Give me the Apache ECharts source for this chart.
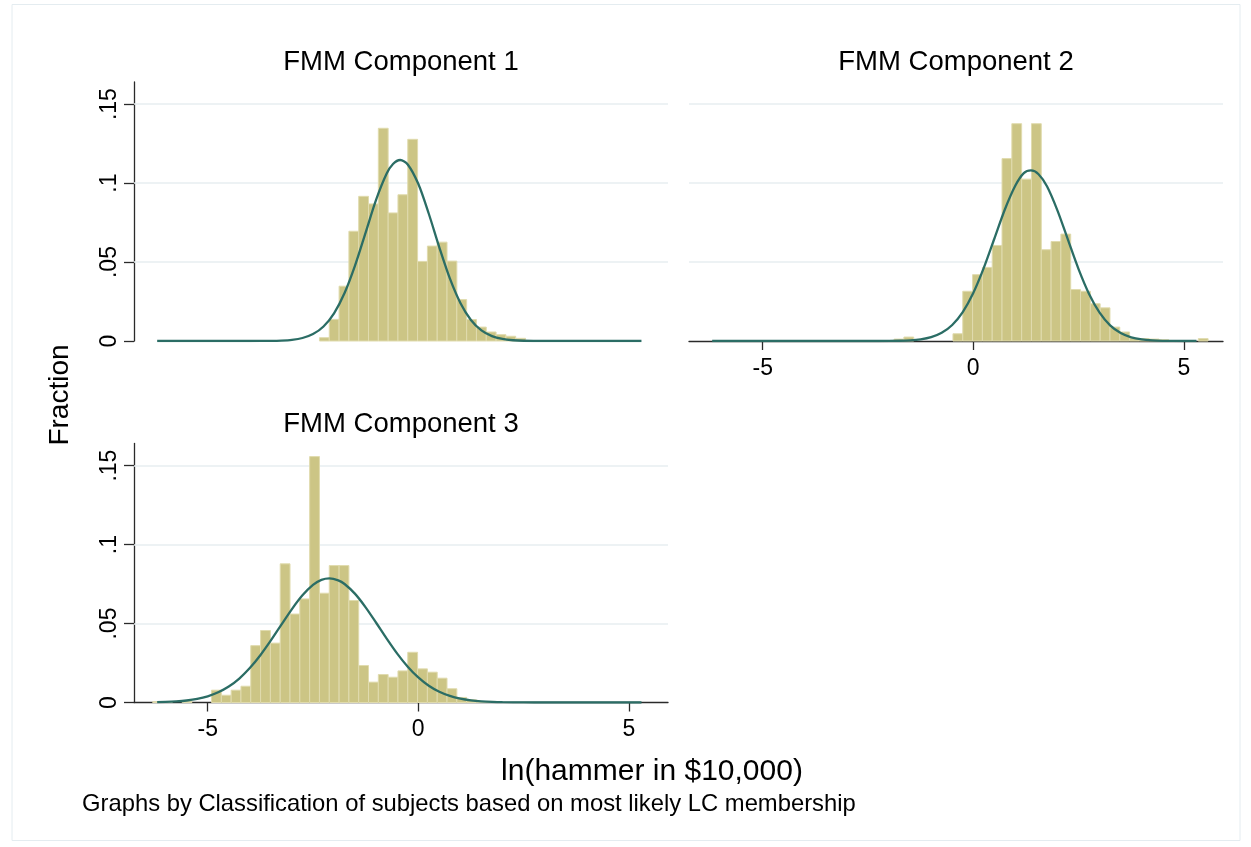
<!DOCTYPE html>
<html>
<head>
<meta charset="utf-8">
<script src="https://cdn.jsdelivr.net/npm/echarts@6/dist/echarts.min.js"></script>
<style>
html,body{margin:0;padding:0;background:#ffffff;}
#chart{width:1251px;height:847px;}
</style>
</head>
<body>
<div id="chart"></div>
<script>
// ---------------- data ----------------
const panelTitles = ['FMM Component 1', 'FMM Component 2', 'FMM Component 3'];
const yAxisTitle = 'Fraction';
const xAxisTitle = 'ln(hammer in $10,000)';
const noteText = 'Graphs by Classification of subjects based on most likely LC membership';

const xTickValues = [-5, 0, 5];
const yTickValues = [0, 0.05, 0.1, 0.15];

// common histogram bins (left edge of first bin, bin width)
const binStart = -6.307;
const binWidth = 0.233;

// fraction in each bin (51 bins) per component
const fractions1 = [0,0,0,0,0,0,0,0,0,0,0,0,0,0,0,0,0,
  0.0021,0.0137,0.0347,0.0695,0.0916,0.0868,0.1347,0.0811,0.0926,0.1277,
  0.0504,0.0601,0.0626,0.0506,0.0262,0.0136,0.0088,0.0057,0.004,0.003,0.0017,
  0,0,0,0,0,0,0,0,0,0,0,0,0];
const fractions2 = [0,0,0,0,0,0,0,0,0,0,0,0,0,0,0,0,0,0,0,
  0.0012,0.0025,0,0,0,0,0.0046,0.0315,0.042,0.0466,0.0605,0.1155,0.1376,0.1025,
  0.1376,0.0578,0.063,0.0677,0.0326,0.0315,0.0236,0.021,0.0088,0.0057,0.0015,
  0.0015,0.0012,0.0008,0,0,0,0.0015];
const fractions3 = [0.0005,0.0005,0,0.0008,0,0,0.0078,0.0046,0.0078,0.0103,
  0.036,0.0456,0.0376,0.0878,0.056,0.0656,0.1557,0.0692,0.0867,0.0867,0.0646,
  0.0234,0.0129,0.0177,0.016,0.02,0.0318,0.0213,0.0192,0.0154,0.0087,0.0032,
  0.0017,0.0005,0.0007,
  0,0,0,0,0,0,0,0,0,0,0,0,0,0,0,0];

// fitted normal curves
const curve1X = [-6.2,-4.5,-4,-3.5,-3.25,-3,-2.75,-2.5,-2.25,-2,-1.75,-1.5,-1.25,-1,-0.75,-0.6,-0.43,-0.25,0,0.25,0.5,0.75,1,1.25,1.5,1.75,2,2.25,2.5,3,3.5,4.5,5.3];
const curve1Y = [0,0,0.00001,0.00009,0.00027,0.00075,0.0019,0.00437,0.00918,0.01752,0.03038,0.04789,0.06865,0.08947,0.1060,0.1121,0.1146,0.1118,0.09954,0.08057,0.05928,0.03966,0.02412,0.01334,0.0067,0.00306,0.00127,0.00048,0.00017,0.00001,0,0,0];
const curve2X = [-6.2,-4,-3,-2.5,-2,-1.75,-1.5,-1.25,-1,-0.75,-0.5,-0.25,0,0.25,0.5,0.75,1,1.2,1.37,1.55,1.75,2,2.25,2.5,2.75,3,3.25,3.5,3.75,4,4.25,4.5,5,5.3];
const curve2Y = [0,0,0,0,0.00005,0.00015,0.00041,0.00104,0.00242,0.00518,0.01015,0.01832,0.03036,0.04625,0.06474,0.08328,0.09845,0.1063,0.1080,0.1056,0.09796,0.08259,0.06399,0.04555,0.02981,0.01792,0.0099,0.00503,0.00235,0.00101,0.0004,0.00014,0.00001,0];
const curve3X = [-6.2,-6,-5.75,-5.5,-5.25,-5,-4.75,-4.5,-4.25,-4,-3.75,-3.5,-3.25,-3,-2.75,-2.5,-2.3,-2.11,-1.9,-1.75,-1.5,-1.25,-1,-0.75,-0.5,-0.25,0,0.25,0.5,0.75,1,1.25,1.5,1.75,2,2.5,3,4,5.3];
const curve3Y = [0.00019,0.00034,0.00068,0.00127,0.00228,0.00392,0.00644,0.01011,0.01518,0.0218,0.02992,0.03928,0.04929,0.05915,0.06785,0.07442,0.07765,0.0786,0.07736,0.07503,0.06877,0.06027,0.0505,0.04046,0.03098,0.02269,0.01589,0.01064,0.00681,0.00417,0.00244,0.00136,0.00073,0.00037,0.00018,0.00004,0,0,0];

// ---------------- build ----------------
const FONT_FAMILY = '"Liberation Sans", Arial, Helvetica, sans-serif';
const BAR_FILL = '#ccc585';
const BAR_EDGE = '#e0dbae';
const CURVE_COLOR = '#2b6d65';
const GRID_COLOR = '#e7eef1';
const AXIS_COLOR = '#2a2a2a';

const X_MIN = -6.75, X_MAX = 5.93, Y_MAX = 0.164;

function binsToData(fr) {
  const out = [];
  fr.forEach((v, i) => {
    if (v > 0) {
      const x0 = binStart + i * binWidth;
      out.push([x0, x0 + binWidth, v]);
    }
  });
  return out;
}
function zip(xs, ys) { return xs.map((x, i) => [x, ys[i]]); }

function renderBar(params, api) {
  const p0 = api.coord([api.value(0), api.value(2)]);
  const p1 = api.coord([api.value(1), 0]);
  return {
    type: 'rect',
    shape: { x: p0[0], y: p0[1], width: p1[0] - p0[0], height: p1[1] - p0[1] },
    style: { fill: BAR_FILL, stroke: BAR_EDGE, lineWidth: 1 }
  };
}

function yLabelFmt(v) {
  if (Math.abs(v) < 1e-9) return '0';
  const r = Math.round(v * 100) / 100;
  if (!yTickValues.some(t => Math.abs(t - r) < 1e-9)) return '';
  return String(r).replace(/^0/, '');
}

const grids = [
  { left: 134, top: 82, width: 534, height: 259 },
  { left: 689, top: 82, width: 534, height: 259 },
  { left: 134, top: 443.5, width: 534, height: 259 }
];

function makeXAxis(gi, visible) {
  return {
    type: 'value', gridIndex: gi, min: X_MIN, max: X_MAX,
    show: visible,
    axisLine: { show: visible, onZero: false, lineStyle: { color: AXIS_COLOR, width: 1.3 } },
    axisTick: { show: visible, customValues: xTickValues, length: 9, lineStyle: { color: AXIS_COLOR, width: 1.3 } },
    axisLabel: { show: visible, customValues: xTickValues, margin: 16, fontSize: 23, color: '#000', fontFamily: FONT_FAMILY },
    splitLine: { show: false }
  };
}
function makeYAxis(gi, visible) {
  return {
    type: 'value', gridIndex: gi, min: 0, max: Y_MAX,
    axisLine: { show: visible, onZero: false, lineStyle: { color: AXIS_COLOR, width: 1.3 } },
    axisTick: { show: visible, customValues: yTickValues, length: 10, lineStyle: { color: AXIS_COLOR, width: 1.3 } },
    axisLabel: { show: visible, customValues: yTickValues, rotate: 90, margin: 13, fontSize: 23, color: '#000', fontFamily: FONT_FAMILY, formatter: yLabelFmt },
    splitLine: { show: false }
  };
}

const fractions = [fractions1, fractions2, fractions3];
const curves = [zip(curve1X, curve1Y), zip(curve2X, curve2Y), zip(curve3X, curve3Y)];

const series = [];
for (let g = 0; g < 3; g++) {
  series.push({
    type: 'custom', xAxisIndex: g, yAxisIndex: g, z: 2,
    renderItem: renderBar, encode: { x: [0, 1], y: 2 },
    data: binsToData(fractions[g]), silent: true
  });
  series.push({
    type: 'line', xAxisIndex: g, yAxisIndex: g, z: 3,
    data: curves[g], smooth: 0.3, showSymbol: false, silent: true,
    lineStyle: { color: CURVE_COLOR, width: 2.3 },
    markLine: {
      silent: true, z: 1, symbol: ['none', 'none'], label: { show: false },
      lineStyle: { color: GRID_COLOR, width: 1.6, type: 'solid' },
      emphasis: { disabled: true },
      data: yTickValues.filter(v => v > 0).map(v => ({ yAxis: v }))
    },
    animation: false
  });
}

const titleCenters = [[401, 62], [956, 62], [401, 424]];

const graphic = [
  { type: 'rect', silent: true, z: -10,
    shape: { x: 12, y: 4.5, width: 1228, height: 836 },
    style: { fill: 'none', stroke: '#e4ecf0', lineWidth: 1 } }
];
titleCenters.forEach((c, i) => {
  graphic.push({ type: 'text', x: c[0], y: c[1], silent: true,
    style: { text: panelTitles[i], font: '27.5px ' + FONT_FAMILY, fill: '#000',
      align: 'center', verticalAlign: 'middle', textAlign: 'center', textVerticalAlign: 'middle' } });
});
graphic.push({ type: 'text', x: 60, y: 395, rotation: Math.PI / 2, silent: true,
  style: { text: yAxisTitle, font: '28px ' + FONT_FAMILY, fill: '#000',
    align: 'center', verticalAlign: 'middle', textAlign: 'center', textVerticalAlign: 'middle' } });
graphic.push({ type: 'text', x: 652, y: 772, silent: true,
  style: { text: xAxisTitle, font: '30px ' + FONT_FAMILY, fill: '#000',
    align: 'center', verticalAlign: 'middle', textAlign: 'center', textVerticalAlign: 'middle' } });
graphic.push({ type: 'text', x: 82, y: 804, silent: true,
  style: { text: noteText, font: '23.8px ' + FONT_FAMILY, fill: '#000',
    align: 'left', verticalAlign: 'middle', textAlign: 'left', textVerticalAlign: 'middle' } });

const option = {
  backgroundColor: '#ffffff',
  animation: false,
  grid: grids,
  xAxis: [makeXAxis(0, false), makeXAxis(1, true), makeXAxis(2, true)],
  yAxis: [makeYAxis(0, true), makeYAxis(1, false), makeYAxis(2, true)],
  series: series,
  graphic: graphic
};

const chart = echarts.init(document.getElementById('chart'), null, { renderer: 'canvas' });
chart.setOption(option);
</script>
</body>
</html>
